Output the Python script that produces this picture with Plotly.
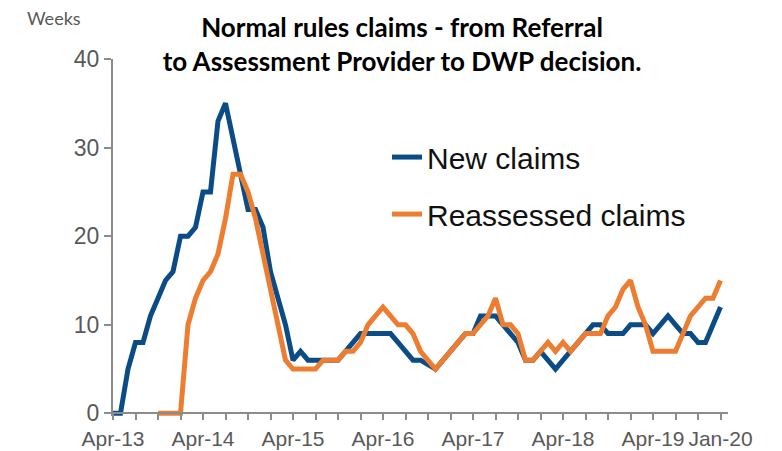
import pandas as pd
import plotly.graph_objects as go

# Categories: monthly, Apr-13 .. Jan-20
months = pd.date_range("2013-04-01", "2020-01-01", freq="MS").strftime("%b-%y").tolist()

new_claims = [
    0, 0, 5, 8, 8, 11, 13, 15, 16, 20, 20, 21,
    25, 25, 33, 35, 31, 27, 23, 23, 21, 16, 13, 10,
    6, 7, 6, 6, 6, 6, 6, 7, 8, 9, 9, 9,
    9, 9, 8, 7, 6, 6, 5.5, 5, 6, 7, 8, 9,
    9, 11, 11, 11, 10, 9, 8, 6, 6, 7, 6, 5,
    6, 7, 8, 9, 10, 10, 9, 9, 9, 10, 10, 10,
    9, 10, 11, 10, 9, 9, 8, 8, 10, 12,
]

reassessed_claims = [
    None, None, None, None, None, None, 0, 0, 0, 0, 10, 13,
    15, 16, 18, 22, 27, 27, 25, 22, 18, 14, 10, 6,
    5, 5, 5, 5, 6, 6, 6, 7, 7, 8, 10, 11,
    12, 11, 10, 10, 9, 7, 6, 5, 6, 7, 8, 9,
    9, 10, 11, 13, 10, 10, 9, 6, 6, 7, 8, 7,
    8, 7, 8, 9, 9, 9, 11, 12, 14, 15, 12, 10,
    7, 7, 7, 7, 9, 11, 12, 13, 13, 15,
]

tick_months = months[::3]
tick_labels = [m if (m.startswith("Apr") or m == "Jan-20") else "" for m in tick_months]
y_ticks = [0, 10, 20, 30, 40]

BLUE = "#0B4C86"
ORANGE = "#ED7D31"
AXIS = "#8C8C8C"
TICKTXT = "#595959"

# page body adds an 8px offset; figure is sized to fit the window after it
OFF = 8
W, H = 782 - OFF, 451 - OFF
ymin, ymax = -0.3, 40
UNIT = 8.85  # px per week
L, T = 113 - OFF, 59 - OFF
PW = 615
PH = UNIT * (ymax - ymin)
B = H - T - PH
R = W - L - PW

fig = go.Figure()
fig.add_trace(go.Scatter(
    x=months, y=new_claims, mode="lines", name="New claims",
    line=dict(color=BLUE, width=5), legendgroup="a",
))
fig.add_trace(go.Scatter(
    x=months, y=reassessed_claims, mode="lines", name="Reassessed claims",
    line=dict(color=ORANGE, width=5), legendgroup="b",
))

fig.update_layout(
    width=W, height=H,
    margin=dict(l=L, r=R, t=T, b=B, autoexpand=False),
    paper_bgcolor="white", plot_bgcolor="white",
    font=dict(family="Liberation Sans, Arial, sans-serif"),
    title=dict(
        text="Normal rules claims - from Referral<br>to Assessment Provider to DWP decision.",
        font=dict(family="Lato, Carlito, sans-serif", size=26, color="#000000", weight="bold"),
        x=(402 - OFF) / W, xanchor="center",
        y=1 - (37 - OFF) / H, yanchor="middle", yref="container",
    ),
    showlegend=True,
    legend=dict(
        x=(387 - 113) / PW, xanchor="left",
        y=1 - (131 - 59) / PH, yanchor="top",
        font=dict(family="Liberation Sans, Arial, sans-serif", size=30, color="#111111"),
        bgcolor="rgba(0,0,0,0)", tracegroupgap=15,
    ),
    xaxis=dict(
        type="category", range=[0, 82],
        tickmode="array", tickvals=tick_months, ticktext=tick_labels,
        showline=True, linecolor=AXIS, linewidth=2,
        ticks="outside", ticklen=6, tickcolor=AXIS, tickwidth=1.5,
        tickfont=dict(size=21, color=TICKTXT),
        showgrid=False, zeroline=False,
        anchor="free", position=(0 - ymin) / (ymax - ymin),
    ),
    yaxis=dict(
        range=[ymin, ymax],
        tickmode="array", tickvals=y_ticks,
        showline=True, linecolor=AXIS, linewidth=2,
        ticks="outside", ticklen=7, tickcolor=AXIS, tickwidth=1.5,
        tickfont=dict(size=23, color=TICKTXT),
        showgrid=False, zeroline=False,
    ),
    annotations=[
        dict(text="Weeks", xref="paper", yref="paper",
             x=(25 - 113) / PW, y=1 - (18 - 59) / PH, xanchor="left", yanchor="middle",
             showarrow=False, font=dict(family="Lato, sans-serif", size=18, color=TICKTXT)),
    ],
)

fig.write_html("out.html")
